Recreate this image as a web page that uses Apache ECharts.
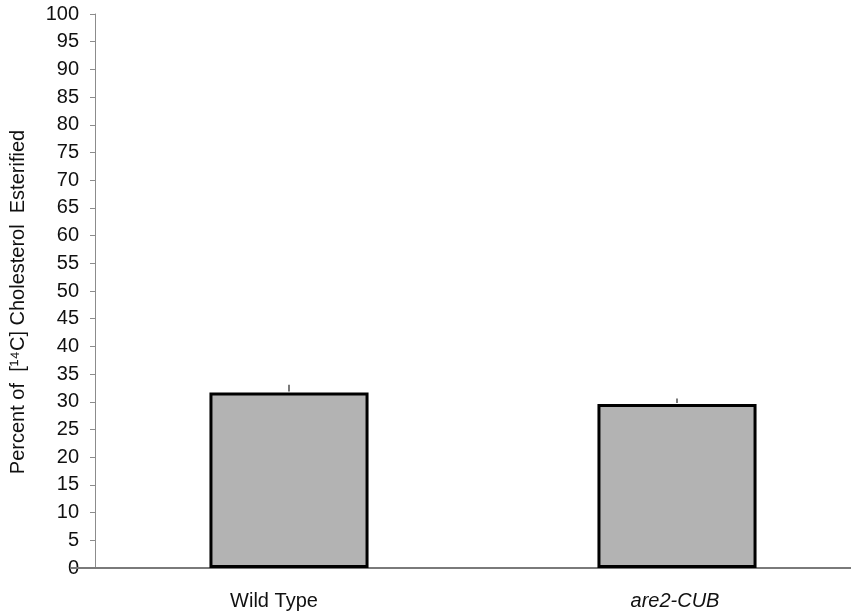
<!DOCTYPE html>
<html>
<head>
<meta charset="utf-8">
<style>
  html, body { margin: 0; padding: 0; background: #fff; }
  #chart { width: 851px; height: 611px; }
</style>
<script src="https://cdn.jsdelivr.net/npm/echarts@6/dist/echarts.min.js"></script>
</head>
<body>
<div id="chart"></div>
<script>
// Strains and measured esterification
const categories = ['Wild Type', 'are2-CUB'];
const percentEsterified = [31.7, 29.6];
const errorTop = [33.1, 30.6];
const yTicks = { min: 0, max: 100, interval: 5 };
const yTitle = 'Percent of  [\u00B9\u2074C] Cholesterol  Esterified';

const FONT = '"Liberation Sans", Arial, Helvetica, sans-serif';
const INK = '#111';

const chart = echarts.init(document.getElementById('chart'));

const option = {
  animation: false,
  grid: { left: 95, right: -20, top: 14, bottom: 43, containLabel: false, outerBoundsMode: 'none' },
  xAxis: {
    type: 'category',
    data: categories,
    axisLine: { show: false },
    axisTick: { show: false },
    axisLabel: {
      margin: 23,
      fontFamily: FONT,
      fontSize: 20,
      color: INK,
      // wild type label sits a little left of its bar; mutant name is italic
      formatter: (v, i) => i === 1 ? '{it|' + v + '}' : '{wt|' + v + '}',
      rich: {
        wt: { fontFamily: FONT, fontSize: 20, color: INK, padding: [0, 30, 0, 0] },
        it: { fontStyle: 'italic', fontFamily: FONT, fontSize: 20, color: INK, padding: [0, 4, 0, 0] }
      }
    }
  },
  yAxis: {
    type: 'value',
    min: yTicks.min,
    max: yTicks.max,
    interval: yTicks.interval,
    splitLine: { show: false },
    axisLine: { show: true, lineStyle: { color: '#8c8c8c', width: 1 } },
    axisTick: { show: true, length: 5, lineStyle: { color: '#8c8c8c', width: 1 } },
    axisLabel: { margin: 16, fontFamily: FONT, fontSize: 20, color: INK }
  },
  series: [
    {
      type: 'bar',
      data: percentEsterified,
      barWidth: '41%',
      itemStyle: { color: '#b3b3b3', borderColor: '#000', borderWidth: 3 },
      z: 2
    },
    {
      type: 'custom',
      data: categories.map((c, i) => [i, percentEsterified[i], errorTop[i]]),
      renderItem: (params, api) => {
        const base = api.coord([api.value(0), api.value(1)]);
        const top = api.coord([api.value(0), api.value(2)]);
        return {
          type: 'line',
          shape: { x1: base[0], y1: base[1] - 1, x2: top[0], y2: top[1] },
          style: { stroke: '#222', lineWidth: 1.2 }
        };
      },
      z: 3
    }
  ]
};

chart.setOption(option);

// Baseline runs past the value axis on the left; axis title set beside the ticks
const y0 = chart.convertToPixel({ yAxisIndex: 0 }, 0);
chart.setOption({
  graphic: [
    {
      type: 'line',
      shape: { x1: 70, y1: y0, x2: 851, y2: y0 },
      style: { stroke: '#7a7a7a', lineWidth: 2 },
      z: 1
    },
    {
      type: 'text',
      x: 18,
      y: 302,
      rotation: Math.PI / 2,
      style: {
        text: yTitle,
        fontFamily: FONT,
        fontSize: 20,
        fill: INK,
        align: 'center',
        verticalAlign: 'middle'
      }
    }
  ]
});
</script>
</body>
</html>
